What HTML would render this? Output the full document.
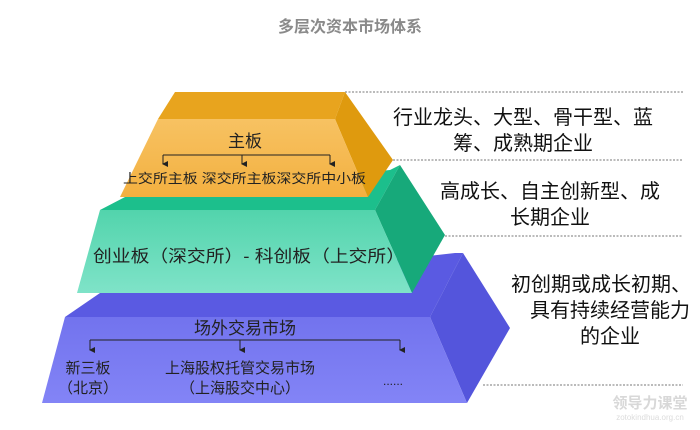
<!DOCTYPE html>
<html><head><meta charset="utf-8"><style>
html,body{margin:0;padding:0;background:#fff;}
svg text{font-family:"Liberation Sans","Noto Sans CJK SC",sans-serif;}
</style></head><body>
<svg width="700" height="425" viewBox="0 0 700 425" xmlns="http://www.w3.org/2000/svg">
<defs>
<linearGradient id="gf" x1="0" y1="0" x2="0" y2="1"><stop offset="0" stop-color="#f7c262"/><stop offset="1" stop-color="#f3b040"/></linearGradient>
<linearGradient id="grf" x1="0" y1="0" x2="0" y2="1"><stop offset="0" stop-color="#52d4ac"/><stop offset="1" stop-color="#7fe3c8"/></linearGradient>
<linearGradient id="bf" x1="0" y1="0" x2="0" y2="1"><stop offset="0" stop-color="#7273ee"/><stop offset="1" stop-color="#8384f6"/></linearGradient>
<marker id="ar" markerWidth="6" markerHeight="6" refX="3" refY="5" orient="auto" markerUnits="userSpaceOnUse"><path d="M0,0 L6,0 L3,6 z" fill="#222"/></marker>
</defs>
<text x="350" y="32" text-anchor="middle" font-size="16" font-weight="bold" fill="#8a8a8a">多层次资本市场体系</text>

<!-- dashed lines -->
<g stroke="#777" stroke-width="1" stroke-dasharray="2,1.5">
<line x1="345" y1="92" x2="683" y2="92"/>
<line x1="393" y1="160" x2="683" y2="160"/>
<line x1="445" y1="236" x2="683" y2="236"/>
<line x1="483" y1="385" x2="683" y2="385"/>
</g>

<!-- blue layer -->
<polygon points="100,293 455,253 463,253 430,317 65,317" fill="#5a5ae2"/>
<polygon points="430,317 463,253 510,328 467,403" fill="#5455dc"/>
<polygon points="65,317 430,317 467,403 42,403" fill="url(#bf)"/>

<!-- green layer -->
<polygon points="125,197 390,170 400,165 375,210 100,210" fill="#1cbf8c"/>
<polygon points="375,210 400,165 445,235 412,293" fill="#17a97a"/>
<polygon points="100,210 375,210 412,293 77,293" fill="url(#grf)"/>

<!-- gold layer -->
<polygon points="175,92 345,92 335,119 158,119" fill="#e8a41e"/>
<polygon points="335,119 345,92 393,160 368,197" fill="#df9a0e"/>
<polygon points="158,119 335,119 368,197 120,197" fill="url(#gf)"/>

<!-- gold text -->
<text x="245" y="147" text-anchor="middle" font-size="17" fill="#222">主板</text>
<g stroke="#222" stroke-width="1" fill="none">
<line x1="163" y1="155" x2="330" y2="155"/>
<line x1="163" y1="155" x2="163" y2="164" marker-end="url(#ar)"/>
<line x1="242" y1="155" x2="242" y2="164" marker-end="url(#ar)"/>
<line x1="330" y1="155" x2="330" y2="164" marker-end="url(#ar)"/>
</g>
<text x="123" y="183" font-size="13" fill="#222" textLength="243" lengthAdjust="spacingAndGlyphs">上交所主板 深交所主板深交所中小板</text>

<!-- green text -->
<text x="93" y="262" font-size="17" fill="#222" textLength="312" lengthAdjust="spacingAndGlyphs">创业板（深交所）-  科创板（上交所）</text>

<!-- blue text -->
<text x="245" y="334" text-anchor="middle" font-size="17" fill="#222">场外交易市场</text>
<g stroke="#222" stroke-width="1" fill="none">
<line x1="90" y1="340" x2="400" y2="340"/>
<line x1="90" y1="340" x2="90" y2="350" marker-end="url(#ar)"/>
<line x1="240" y1="340" x2="240" y2="350" marker-end="url(#ar)"/>
<line x1="400" y1="340" x2="400" y2="350" marker-end="url(#ar)"/>
</g>
<text x="88" y="373" text-anchor="middle" font-size="15" fill="#222">新三板</text>
<text x="88" y="393" text-anchor="middle" font-size="15" fill="#222">（北京）</text>
<text x="240" y="373" text-anchor="middle" font-size="15" fill="#222">上海股权托管交易市场</text>
<text x="240" y="393" text-anchor="middle" font-size="15" fill="#222">（上海股交中心）</text>
<text x="383" y="385" font-size="12" fill="#222">......</text>

<!-- right texts -->
<g font-size="20" fill="#111" text-anchor="middle">
<text x="523" y="124">行业龙头、大型、骨干型、蓝</text>
<text x="523" y="150">筹、成熟期企业</text>
<text x="550" y="198">高成长、自主创新型、成</text>
<text x="550" y="224">长期企业</text>
<text x="601" y="291">初创期或成长初期、</text>
<text x="610" y="317">具有持续经营能力</text>
<text x="610" y="343">的企业</text>
</g>
<text x="650" y="408" text-anchor="middle" font-size="15" fill="#d8d8d8" font-weight="bold">领导力课堂</text>
<text x="650" y="420" text-anchor="middle" font-size="8" fill="#dcdcdc">zotokindhua.org.cn</text>
</svg>
</body></html>
